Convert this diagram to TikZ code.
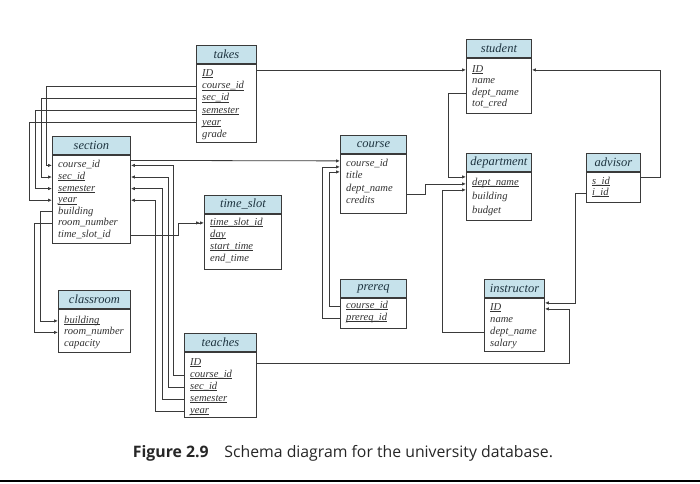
\documentclass[tikz,border=0pt]{standalone}
\usepackage{fontspec}
\setmainfont{Liberation Serif}
\newfontfamily\capfont{Open Sans}
\usetikzlibrary{arrows.meta,calc}

\definecolor{hdrblue}{HTML}{C6E2EB}
\definecolor{hdrtext}{HTML}{1E3440}
\definecolor{linegray}{HTML}{3A3A3A}

% key attribute, underlined close to the baseline
\newcommand{\key}[1]{\setbox0\hbox{#1}\rlap{\rule[-1.4pt]{\wd0}{0.45pt}}\box0}

% one relation: name, title, x, top, width, body height, first row, row step, rows
\newcommand{\relation}[9]{%
  \node[hdr, minimum width=#5pt, anchor=north west] (#1) at (#3,#4) {#2};
  \node[body, minimum width=#5pt, minimum height=#6pt, anchor=north west] (#1-b) at (#1.south west) {};
  \foreach \r [count=\i] in {#9}
    \node[attr] (#1-\i) at ($(#1-b.north west)+(6,{#7+#8*(\i-1)})$) {\r};
}

\begin{document}
\begin{tikzpicture}[
            x=1pt, y=-1pt,
            hdr/.style={
                draw=linegray,
                line width=0.9pt,
                fill=hdrblue,
                minimum height=18pt,
                inner sep=0pt,
                text=hdrtext,
                font=\itshape\fontsize{12.5}{12.5}\selectfont
            },
            body/.style={
                draw=linegray,
                line width=0.9pt,
                fill=white,
                inner sep=0pt
            },
            attr/.style={
                anchor=west,
                inner sep=0pt,
                text height=7pt,
                text depth=2pt,
                text=black!80,
                font=\itshape\fontsize{10.6}{10.6}\selectfont
            },
            fk/.style={
                draw=linegray,
                line width=0.8pt,
                -{Latex[length=4pt,width=3.5pt]}
            },
            fkk/.style={
                draw=linegray,
                line width=0.8pt,
                -{Latex[length=4pt,width=3.5pt]Latex[length=4pt,width=3.5pt]}
            }
        ]
            \useasboundingbox (0,0) rectangle (700,483);

            % --- Relations ---
            \relation{takes}{takes}{196}{45}{60}{78}{10}{12.2}{\key{ID}, \key{course\_id}, \key{sec\_id}, \key{semester}, \key{year}, grade}
            \relation{section}{section}{52}{136}{78}{88}{10.5}{11.6}{course\_id, \key{sec\_id}, \key{semester}, \key{year}, building, room\_number, time\_slot\_id}
            \relation{timeslot}{time\_slot}{204}{195}{77}{55}{9}{12}{\key{time\_slot\_id}, \key{day}, \key{start\_time}, end\_time}
            \relation{classroom}{classroom}{58}{290}{72}{43}{12}{11.5}{\key{building}, room\_number, capacity}
            \relation{teaches}{teaches}{184}{333}{72}{65}{11}{12}{\key{ID}, \key{course\_id}, \key{sec\_id}, \key{semester}, \key{year}}
            \relation{course}{course}{340}{135}{66}{59}{10}{12.5}{course\_id, title, dept\_name, credits}
            \relation{prereq}{prereq}{340}{279}{66}{30}{8}{12}{\key{course\_id}, \key{prereq\_id}}
            \relation{student}{student}{466}{39}{65}{55}{12}{11.5}{\key{ID}, name, dept\_name, tot\_cred}
            \relation{department}{department}{466}{153}{65}{48}{11}{14}{\key{dept\_name}, building, budget}
            \relation{advisor}{advisor}{586}{153}{54}{30}{10}{11}{\key{s\_id}, \key{i\_id}}
            \relation{instructor}{instructor}{484}{279}{60}{53}{10}{12}{\key{ID}, name, dept\_name, salary}

            % --- takes ---
            \draw[fk] (student-1 -| takes-b.east) -- (student-1 -| student-b.west);
            \foreach \i/\j/\dx in {2/1/6, 3/2/11, 4/3/17, 5/4/23} {
                \draw[fk] (takes-\i -| takes-b.west) -| ($(section-\j -| section-b.west)+(-\dx,0)$) -- (section-\j -| section-b.west);
            }

            % --- teaches ---
            \foreach \i/\j/\dx in {2/1/42, 3/2/37, 4/3/31, 5/4/24} {
                \draw[fk] (teaches-\i -| teaches-b.west) -| ($(section-\j -| section-b.east)+(\dx,0)$) -- (section-\j -| section-b.east);
            }
            \draw[fk] (teaches-1 -| teaches-b.east) -| ($(instructor-1 -| instructor-b.east)+(24,1)$) -- ($(instructor-1 -| instructor-b.east)+(0,1)$);

            % --- section ---
            \draw[fk] ($(section-1 -| section-b.east)+(0,-5)$) -- ($(course-1 -| course-b.west)+(0,-3)$);
            \draw[fkk] (section-7 -| section-b.east) -| ($(timeslot-1 -| timeslot-b.west)+(-26,0)$) -- (timeslot-1 -| timeslot-b.west);
            \foreach \i/\j/\dx in {5/1/18, 6/2/24} {
                \draw[fk] (section-\i -| section-b.west) -| ($(classroom-\j -| classroom-b.west)+(-\dx,0)$) -- (classroom-\j -| classroom-b.west);
            }

            % --- prereq ---
            \foreach \i/\dx/\dy in {1/11/8, 2/18/3} {
                \draw[fk] (prereq-\i -| prereq-b.west) -| ($(course-1 -| course-b.west)+(-\dx,\dy)$) -- ($(course-1 -| course-b.west)+(0,\dy)$);
            }

            % --- dept_name ---
            \draw[fk] ($(course-3 -| course-b.east)+(0,5)$) -| ($(department-1 -| department-b.west)+(-41,1)$) -- ($(department-1 -| department-b.west)+(0,1)$);
            \draw[fk] (student-3 -| student-b.west) -| ($(department-1 -| department-b.west)+(-18,-6)$) -- ($(department-1 -| department-b.west)+(0,-6)$);
            \draw[fk] (instructor-3 -| instructor-b.west) -| ($(department-1 -| department-b.west)+(-24,7)$) -- ($(department-1 -| department-b.west)+(0,7)$);

            % --- advisor ---
            \draw[fk] ($(advisor-1 -| advisor-b.east)+(0,-5)$) -- ++(19,0) |- (student-1 -| student-b.east);
            \draw[fk] (advisor-2 -| advisor-b.west) -| ($(instructor-1 -| instructor-b.east)+(30,-5)$) -- ($(instructor-1 -| instructor-b.east)+(0,-5)$);

            % --- caption ---
            \node[font=\capfont\fontsize{15.8}{15.8}\selectfont, text=black!85] (cap) at (343,453)
                {\textbf{Figure 2.9}\hspace{1em}Schema diagram for the university database.};
            \draw[line width=1.2pt] (0,481) -- (700,481);
        \end{tikzpicture}
\end{document}
